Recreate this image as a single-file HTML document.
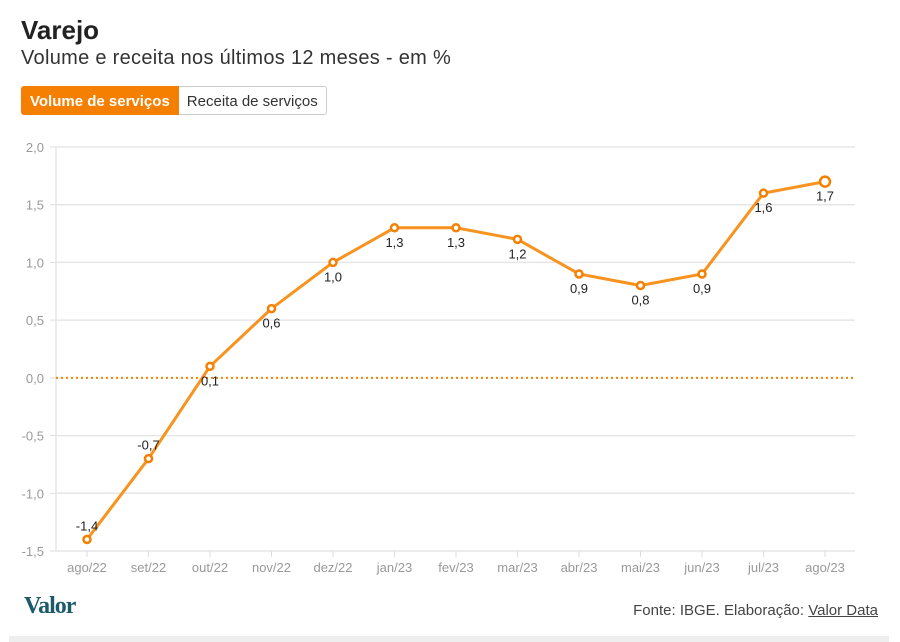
<!DOCTYPE html>
<html><head><meta charset="utf-8"><style>
body{margin:0;width:900px;height:642px;background:#fff;font-family:"Liberation Sans",sans-serif;position:relative;overflow:hidden}
.t{position:absolute;left:21px;top:15px;font-size:26px;font-weight:bold;color:#222}
.s{position:absolute;left:21px;top:47px;font-size:20px;letter-spacing:0.3px;color:#333}
.btns{position:absolute;left:21px;top:86px;display:flex;font-size:15px}
.b{height:29px;line-height:29px;padding:0 8px;border:1px solid #ccc;box-sizing:border-box}
.b1{background:#f57f00;color:#fff;font-weight:bold;border-color:#f57f00;border-radius:3px 0 0 3px}
.b2{background:#fff;color:#333;border-left:none;border-radius:0 3px 3px 0}
.logo{position:absolute;left:24px;top:593px;font-family:"Liberation Serif",serif;font-weight:bold;font-size:24px;color:#1b5a6b;letter-spacing:-1px}
.src{position:absolute;right:22px;top:602px;font-size:15px;color:#444}
.bar{position:absolute;left:9px;top:636px;width:880px;height:6px;background:#eee}
</style></head><body>
<div class="t">Varejo</div>
<div class="s">Volume e receita nos últimos 12 meses - em %</div>
<div class="btns">
<div class="b b1">Volume de serviços</div>
<div class="b b2">Receita de serviços</div>
</div>
<svg id="c" width="900" height="642" style="position:absolute;left:0;top:0"></svg>
<div class="logo">Valor</div>
<div class="src">Fonte: IBGE. Elaboração: <u>Valor Data</u></div>
<div class="bar"></div>
<script>
const categories=["ago/22","set/22","out/22","nov/22","dez/22","jan/23","fev/23","mar/23","abr/23","mai/23","jun/23","jul/23","ago/23"];
const values=[-1.4,-0.7,0.1,0.6,1.0,1.3,1.3,1.2,0.9,0.8,0.9,1.6,1.7];
const yTicks=[2.0,1.5,1.0,0.5,0.0,-0.5,-1.0,-1.5];
const labelBelow=[false,false,true,true,true,true,true,true,true,true,true,true,true];
const svg=document.getElementById('c');const NS='http://www.w3.org/2000/svg';
const L=56,R=855,T=147,B=551,ymin=-1.5,ymax=2.0;
const y=v=>B-(v-ymin)/(ymax-ymin)*(B-T);
const x=i=>87+i*(825-87)/(categories.length-1);
const fmt=v=>v.toFixed(1).replace('.',',');
function mk(t,a,p){const e=document.createElementNS(NS,t);for(const k in a)e.setAttribute(k,a[k]);(p||svg).appendChild(e);return e;}
yTicks.forEach(v=>{
 if(v!==0){const g=mk('line',{x1:L,x2:R,y1:y(v),y2:y(v),stroke:'#e6e6e6','stroke-width':1.5});
 
 }
 mk('line',{x1:L-6,x2:L,y1:y(v),y2:y(v),stroke:'#ddd'});
 const t=mk('text',{x:L-12,y:y(v)+5,'text-anchor':'end','font-size':13,fill:'#999'});t.textContent=fmt(v);
 
 
});
mk('line',{x1:L,x2:L,y1:T,y2:B,stroke:'#e6e6e6','stroke-width':1.5});
categories.forEach((c,i)=>{
 mk('line',{x1:x(i),x2:x(i),y1:B,y2:B+6,stroke:'#ddd'});
 const t=mk('text',{x:x(i),y:B+21,'text-anchor':'middle','font-size':13,fill:'#999'});t.textContent=c;
 
 
});
const z=mk('line',{x1:L,x2:R,y1:y(0),y2:y(0),stroke:'#f57f00','stroke-width':2,'stroke-dasharray':'2,3'});


const pl=mk('polyline',{points:values.map((v,i)=>x(i)+','+y(v)).join(' '),fill:'none',stroke:'#f7931e','stroke-width':3});


values.forEach((v,i)=>{
 const last=i===values.length-1;
 const p=mk('circle',{cx:x(i),cy:y(v),r:last?5:3.5,fill:'#fff',stroke:'#f57f00','stroke-width':2.5});
 
 
 const t=mk('text',{x:x(i),y:labelBelow[i]?y(v)+19:y(v)-9,'text-anchor':'middle','font-size':13,fill:'#222'});t.textContent=fmt(v);
 
 
});
</script>
</body></html>
